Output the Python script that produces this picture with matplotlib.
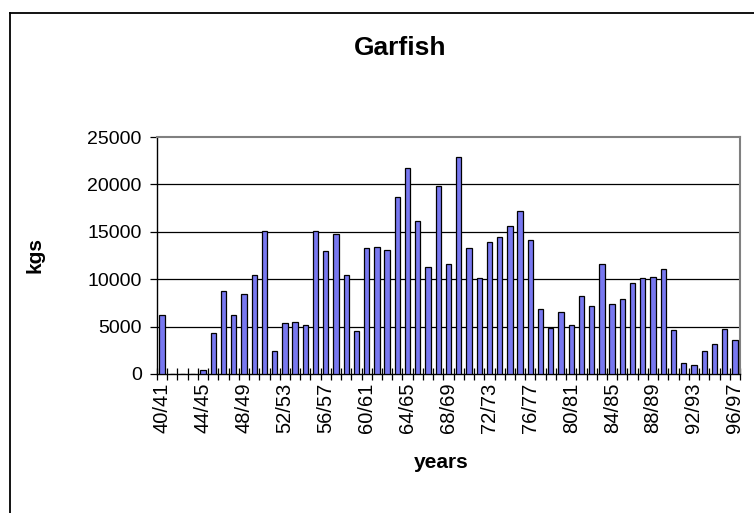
import matplotlib
matplotlib.use("Agg")
import matplotlib.pyplot as plt
from matplotlib.lines import Line2D
import numpy as np

plt.rcParams['font.family'] = ['Liberation Sans', 'DejaVu Sans']

years = [f"{y}/{y+1}" for y in range(40, 97)]
kgs = [6200, 0, 0, 0, 460, 4320, 8720, 6190, 8400, 10400,
       15110, 2460, 5340, 5480, 5200, 15110, 12930, 14790, 10400, 4500,
       13280, 13420, 13110, 18660, 21680, 16160, 11240, 19850, 11600, 22880,
       13280, 10120, 13950, 14440, 15640, 17180, 14160, 6850, 4850, 6540,
       5200, 8220, 7200, 11600, 7380, 7870, 9560, 10090, 10260, 11100,
       4670, 1120, 910, 2460, 3160, 4700, 3550]
yticks = [0, 5000, 10000, 15000, 20000, 25000]

W, H = 754, 513
fig = plt.figure(figsize=(W/100, H/100), dpi=100)
ax = fig.add_axes([157/W, 1-374/H, 583/W, 237/H])

x = np.arange(len(years))
ax.bar(x, kgs, width=0.52, color='#7878F0', edgecolor='black', linewidth=0.9, zorder=3)

ax.set_xlim(-0.5, len(years)-0.5)
ax.set_ylim(0, 25000)
ax.set_yticks(yticks)
ax.set_yticklabels([str(v) for v in yticks], fontsize=14)
for v in yticks[1:-1]:
    ax.axhline(v, color='black', linewidth=0.9, zorder=1)

ax.set_xticks(x[::4])
ax.set_xticklabels([years[i] for i in x[::4]], rotation=90, fontsize=14.5)
ax.tick_params(axis='x', which='major', length=0, pad=6)
ax.set_xticks(np.arange(-0.5, len(years)), minor=True)
ax.tick_params(axis='x', which='minor', direction='inout', length=9, width=0.9, color='black')
ax.tick_params(axis='y', which='major', direction='out', length=5, width=0.9, pad=6)

for s in ['left', 'bottom']:
    ax.spines[s].set_color('black')
    ax.spines[s].set_linewidth(1.0)
for s in ['top', 'right']:
    ax.spines[s].set_color('#808080')
    ax.spines[s].set_linewidth(1.5)

fig.text(400/W, 1-48/H, 'Garfish', ha='center', va='center', fontsize=19, fontweight='bold')
fig.text(35/W, 1-255/H, 'kgs', ha='center', va='center', rotation=90, fontsize=15, fontweight='bold')
fig.text(441/W, 1-463/H, 'years', ha='center', va='center', fontsize=15, fontweight='bold')

fig.add_artist(Line2D([9.5/W, 9.5/W], [1-12.5/H, 0], transform=fig.transFigure, color='black', linewidth=1.3))
fig.add_artist(Line2D([9.5/W, 1], [1-12.5/H, 1-12.5/H], transform=fig.transFigure, color='black', linewidth=1.3))

fig.savefig('out.png', dpi=100)
